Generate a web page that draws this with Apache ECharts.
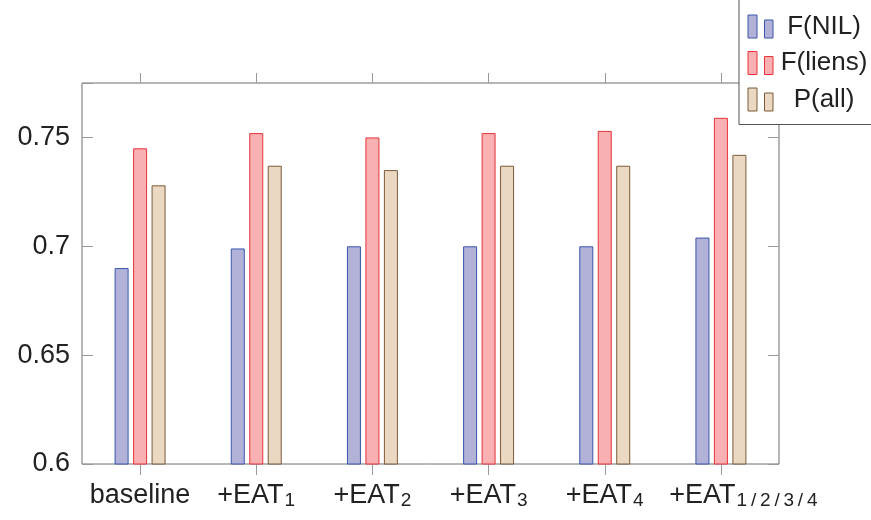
<!DOCTYPE html>
<html>
<head>
<meta charset="utf-8">
<script src="https://cdn.jsdelivr.net/npm/echarts@6/dist/echarts.min.js"></script>
<style>html,body{margin:0;padding:0;background:#fff}#c{width:871px;height:520px}</style>
</head>
<body>
<div id="c"></div>
<script>
var categories = ['baseline', '+EAT', '+EAT', '+EAT', '+EAT', '+EAT'];
var subscripts = ['', '1', '2', '3', '4', '1/2/3/4'];
var seriesNames = ['F(NIL)', 'F(liens)', 'P(all)'];
var fNil = [0.690, 0.699, 0.700, 0.700, 0.700, 0.704];
var fLiens = [0.745, 0.752, 0.750, 0.752, 0.753, 0.759];
var pAll = [0.728, 0.737, 0.735, 0.737, 0.737, 0.742];
var yTicks = [0.6, 0.65, 0.7, 0.75];

var FONT = 'Liberation Sans';
var TXT = '#222';
var fills = ['#b2b2d8', '#f8b0b3', '#ead8c2'];
var borders = ['#3a56ad', '#e8333b', '#7b5b3b'];
var values = [fNil, fLiens, pAll];
var catIds = categories.map(function (c, i) { return String(i); });

var chart = echarts.init(document.getElementById('c'), null, {renderer: 'canvas'});
var series = seriesNames.map(function (n, k) {
  return {
    name: n, type: 'bar', data: values[k], barWidth: 14, barGap: '32%',
    itemStyle: {color: fills[k], borderColor: borders[k], borderWidth: 1},
    emphasis: {disabled: true}, animation: false
  };
});
chart.setOption({
  animation: false,
  grid: {left: 82, right: 92, top: 83, bottom: 56, show: true, borderColor: '#6e6e6e', borderWidth: 1, backgroundColor: 'transparent'},
  legend: {
    orient: 'vertical', left: 739, top: -6, padding: [19.5, 10, 12, 8.5],
    itemWidth: 25, itemHeight: 23, itemGap: 10.5,
    icon: 'path://M0,0h9v23h-9zM16.5,5h8.5v18h-8.5z',
    itemStyle: {borderWidth: 1},
    backgroundColor: '#fff', borderColor: '#555', borderWidth: 1, borderRadius: 0,
    selectedMode: false,
    formatter: function (name) { return '{t|' + name + '}'; },
    textStyle: {rich: {t: {width: 92, align: 'center', fontSize: 26, fontFamily: FONT, color: TXT, lineHeight: 24}}}
  },
  xAxis: [{
    type: 'category', data: catIds, position: 'bottom',
    axisLine: {show: false},
    axisTick: {show: true, alignWithLabel: true, inside: false, length: 11, lineStyle: {color: '#9a9a9a'}},
    axisLabel: {
      margin: 17, interval: 0,
      formatter: function (v, i) {
        var s = '{m|' + categories[i] + '}';
        if (subscripts[i]) s += '{s|' + subscripts[i].split('/').join('\u2009/\u2009') + '}';
        if (i === 5) s = '{sp|}' + s;
        return s;
      },
      rich: {
        m: {fontSize: 27, fontFamily: FONT, color: TXT, lineHeight: 30},
        s: {fontSize: 19, fontFamily: FONT, color: TXT, lineHeight: 30, padding: [10, 0, 0, 1]},
        sp: {width: 45, lineHeight: 30}
      }
    }
  }, {
    type: 'category', data: catIds, position: 'top',
    axisLine: {show: false},
    axisTick: {show: true, alignWithLabel: true, inside: false, length: 10, lineStyle: {color: '#9a9a9a'}},
    axisLabel: {show: false}
  }],
  yAxis: [{
    type: 'value', min: 0.6, max: 0.775, interval: 0.05, position: 'left',
    axisLine: {show: false}, splitLine: {show: false},
    axisTick: {show: true, inside: true, length: 11, lineStyle: {color: '#9a9a9a'}},
    axisLabel: {
      margin: 12, fontSize: 27, fontFamily: FONT, color: TXT,
      formatter: function (v) {
        for (var i = 0; i < yTicks.length; i++) if (Math.abs(v - yTicks[i]) < 1e-9) return String(yTicks[i]);
        return '';
      }
    }
  }, {
    type: 'value', min: 0.6, max: 0.775, interval: 0.05, position: 'right',
    axisLine: {show: false}, splitLine: {show: false},
    axisTick: {show: true, inside: true, length: 11, lineStyle: {color: '#9a9a9a'}},
    axisLabel: {show: false}
  }],
  series: series
});
</script>
</body>
</html>
